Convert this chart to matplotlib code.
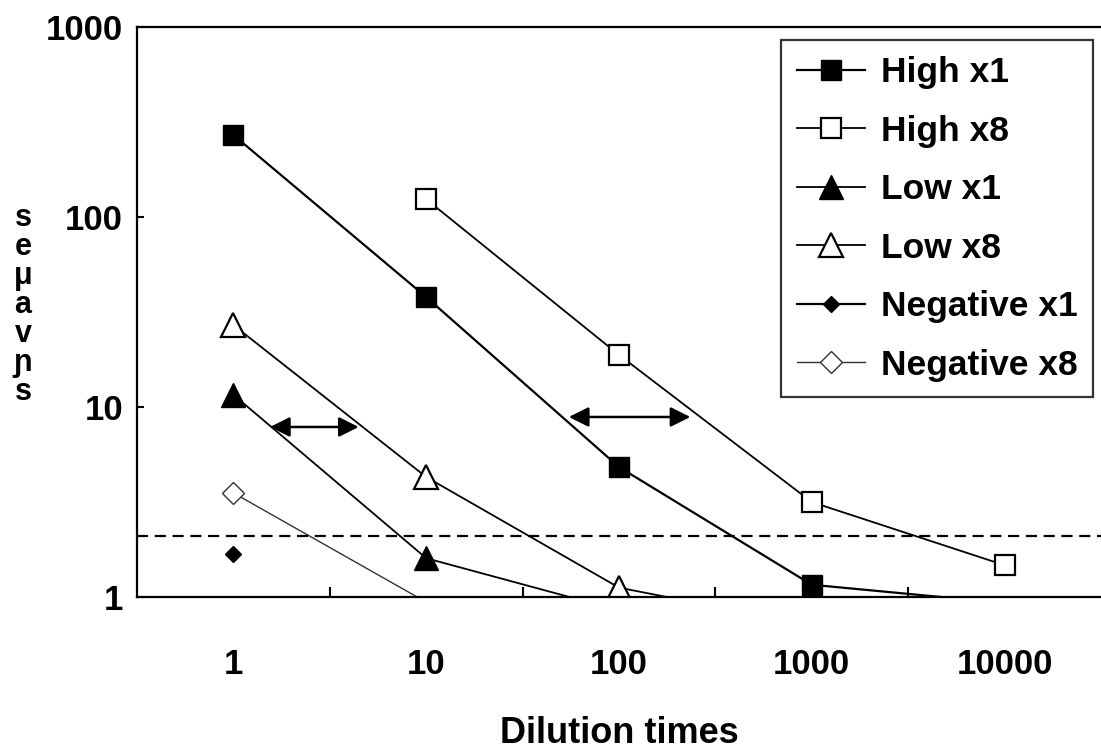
import numpy as np
import matplotlib
matplotlib.use("Agg")
import matplotlib.pyplot as plt

plt.rcParams['font.family'] = ['Liberation Sans', 'DejaVu Sans']
plt.rcParams['font.weight'] = 'bold'

# dilution categories (Excel style category axis)
cats = ['1', '10', '100', '1000', '10000']
nan = np.nan
high_x1 = [270, 37.9, 4.83, 1.16, 0.93]
high_x8 = [nan, 124, 18.8, 3.16, 1.47]
low_x1 = [11.6, 1.6, 0.85, nan, nan]
low_x8 = [27, 4.28, 1.12, 0.71, nan]
neg_x1 = [1.68, nan, nan, nan, nan]
neg_x8 = [3.53, 0.94, nan, nan, nan]
cutoff = 2.1
# shifts shown by the two double arrows (x in category units, y value)
arrow1 = (0.19, 0.65, 7.85)
arrow2 = (1.74, 2.37, 8.86)

fig = plt.figure(figsize=(11.01, 7.54), dpi=100)
ax = fig.add_axes([137 / 1101, 1 - 597 / 754, 964 / 1101, 570 / 754])

x = np.arange(len(cats))


def series(vals, **kw):
    # markers only where the point is inside the axis (>= 1), like Excel
    shown = [i for i, v in enumerate(vals) if v >= 1]
    ax.plot(x, vals, markevery=shown, **kw)


series(high_x1, ls='-', marker='s', color='black', lw=1.6, ms=14, mfc='black', mec='black', label='High x1')
series(high_x8, ls='-', marker='s', color='black', lw=1.3, ms=14, mfc='white', mec='black', mew=1.6, label='High x8')
series(low_x1, ls='-', marker='^', color='black', lw=1.3, ms=17, mfc='black', mec='black', label='Low x1')
series(low_x8, ls='-', marker='^', color='black', lw=1.3, ms=17, mfc='white', mec='black', mew=1.6, label='Low x8')
series(neg_x1, ls='-', marker='D', color='black', lw=1.6, ms=8, mfc='black', mec='black', label='Negative x1')
series(neg_x8, ls='-', marker='D', color='#333333', lw=1.0, ms=11, mfc='white', mec='#333333', mew=1.0, label='Negative x8')

ax.axhline(cutoff, color='black', lw=1.6, ls=(0, (5, 3)))

for a in (arrow1, arrow2):
    ax.annotate('', xy=(a[0], a[2]), xytext=(a[1], a[2]),
                arrowprops=dict(arrowstyle='<|-|>', color='black', lw=1.8, mutation_scale=30,
                                shrinkA=0, shrinkB=0))

ax.set_yscale('log')
ax.set_ylim(1, 1000)
ax.set_xlim(-0.5, 4.5)

ax.set_yticks([1, 10, 100, 1000])
ax.set_yticklabels(['1', '10', '100', '1000'])
ax.yaxis.set_minor_locator(matplotlib.ticker.NullLocator())
ax.tick_params(axis='y', which='major', direction='in', length=5, width=1.5, pad=10, labelsize=25)

ax.set_xticks(x)
ax.set_xticklabels(cats)
ax.set_xticks([0.5, 1.5, 2.5, 3.5], minor=True)
ax.tick_params(axis='x', which='major', length=0, pad=37, labelsize=25)
ax.tick_params(axis='x', which='minor', direction='in', length=7, width=1.5)

for s in ('left', 'bottom', 'top'):
    ax.spines[s].set_linewidth(1.6)
ax.spines['right'].set_visible(False)

ax.set_xlabel('Dilution times', fontsize=26, fontweight='bold', labelpad=25)

# stacked y label as it appears in the scan
fig.text(23 / 1101, 1 - 305 / 754, 's\ne\nμ\na\nv\nɲ\ns', ha='center', va='center',
         multialignment='center', fontsize=22, fontweight='bold', linespacing=0.95)

leg = ax.legend(loc='upper right', bbox_to_anchor=(0.992, 0.977), borderaxespad=0,
                frameon=True, fancybox=False, edgecolor='black',
                handlelength=1.9, handletextpad=0.45, labelspacing=0.72, borderpad=0.45,
                prop={'weight': 'bold', 'size': 25.5})
leg.get_frame().set_linewidth(1.6)

fig.savefig('out.png', dpi=100, facecolor='white')
